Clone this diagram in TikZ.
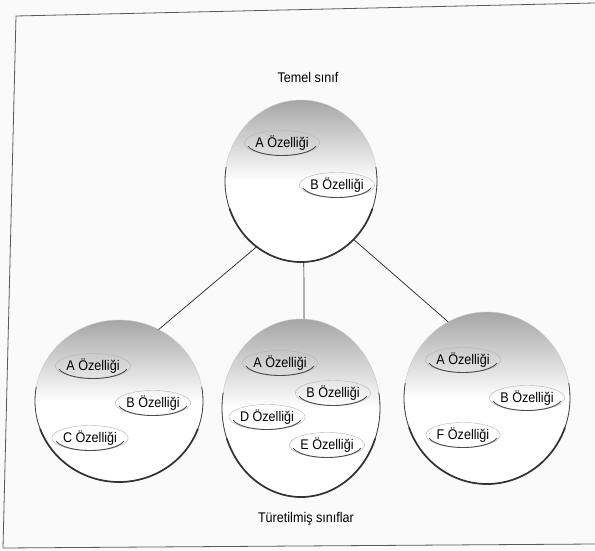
\documentclass[tikz,border=0pt]{standalone}
\usepackage{fontspec}
\setmainfont[FakeStretch=0.9]{Liberation Sans}
\usetikzlibrary{shapes.geometric}

\begin{document}
\begin{tikzpicture}[x=1pt, y=1pt,
    sphere/.style={ellipse, inner sep=0pt, outer sep=0pt},
    prop/.style={ellipse, draw=gray!60, line width=0.4pt, inner sep=0pt,
      minimum width=70pt, minimum height=25pt, font=\fontsize{14}{16}\selectfont},
    rim/.style={draw=black!75, line width=0.8pt},
    rimthick/.style={draw=black!80, line width=1.7pt},
    propedge/.style={draw=black!70, line width=0.9pt},
    link/.style={draw=black!85, line width=0.7pt},
    caption/.style={font=\fontsize{14}{16}\selectfont}]
  \useasboundingbox (0,0) rectangle (595,550);
  \fill[black!2] (0,0) rectangle (595,550);
  % page frame, slightly skewed
  \draw[black!65, line width=0.8pt] (3,2) -- (16,534) -- (595,547);
  \draw[black!65, line width=0.8pt] (3,2) -- (595,6);

  % the four class spheres
  \foreach \n/\x/\y/\rx/\ry in {base/301/369/76/81, dleft/119/149/84/81,
      dmid/301/142/79/89, dright/487/152/83/86}{
    \node[sphere, minimum width=2*\rx, minimum height=2*\ry] (\n) at (\x,\y) {};
    \begin{scope}
      \clip (\x,\y) ellipse [x radius=\rx, y radius=\ry];
      \fill[white] (\x,\y) ellipse [x radius=\rx, y radius=\ry];
      \shade[top color=gray!70, bottom color=white]
        (\x-\rx,\y+\ry) rectangle (\x+\rx,\y);
    \end{scope}
    \draw[gray!45, line width=0.4pt] (\x,\y) ellipse [x radius=\rx, y radius=\ry];
    \draw[rim, shift={(\x,\y)}] ({\rx*cos(170)},{\ry*sin(170)})
      arc[start angle=170, end angle=370, x radius=\rx, y radius=\ry];
    \draw[rimthick, shift={(\x,\y)}] ({\rx*cos(200)},{\ry*sin(200)})
      arc[start angle=200, end angle=340, x radius=\rx, y radius=\ry];
  }

  % inherited and own properties
  \node[prop] (ta) at (282,407) {A Özelliği};
  \node[prop] (tb) at (337,365) {B Özelliği};

  \node[prop] (la) at (93,184) {A Özelliği};
  \node[prop] (lb) at (153,147) {B Özelliği};
  \node[prop] (lc) at (90,112) {C Özelliği};

  \node[prop] (ma) at (280,187) {A Özelliği};
  \node[prop] (mb) at (333,157) {B Özelliği};
  \node[prop] (md) at (267,133) {D Özelliği};
  \node[prop] (me) at (327,105) {E Özelliği};

  \node[prop] (ra) at (463,190) {A Özelliği};
  \node[prop] (rb) at (527,152) {B Özelliği};
  \node[prop] (rf) at (463,115) {F Özelliği};

  \foreach \p in {ta,tb,la,lb,lc,ma,mb,md,me,ra,rb,rf}
    \draw[propedge, shift={(\p.center)}] ({35*cos(195)},{12.5*sin(195)})
      arc[start angle=195, end angle=345, x radius=35, y radius=12.5];

  % inheritance links
  \draw[link] (base.236) -- (dleft.61);
  \draw[link] (base.272) -- (dmid.88);
  \draw[link] (base.312) -- (dright.117);

  \node[caption] (basetitle) at (308,473) {Temel sınıf};
  \node[caption] (derivedtitle) at (306,31) {Türetilmiş sınıflar};
\end{tikzpicture}
\end{document}
